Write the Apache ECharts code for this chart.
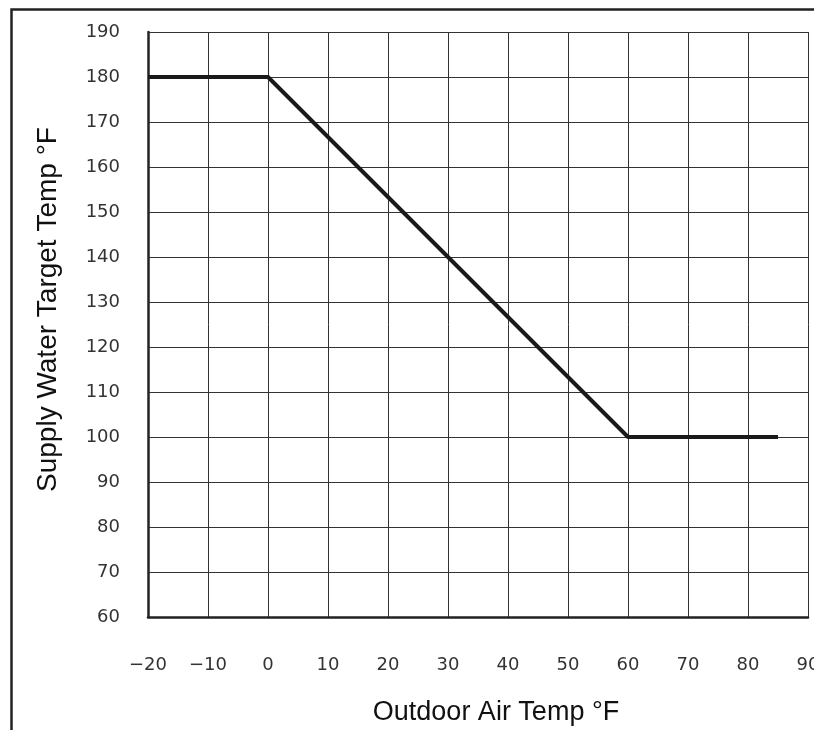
<!DOCTYPE html>
<html>
<head>
<meta charset="utf-8">
<script src="https://cdn.jsdelivr.net/npm/echarts@6/dist/echarts.min.js"></script>
<style>
  html, body { margin: 0; padding: 0; background: #fff; }
  #chart { width: 814px; height: 730px; }
</style>
</head>
<body>
<div id="chart"></div>
<script>
// outdoor air temp (°F) -> supply water target temp (°F)
const outdoorTemp = [-20, 0, 60, 85];
const supplyTemp = [180, 180, 100, 100];

const xMin = -20, xMax = 90, xStep = 10;
const yMin = 60, yMax = 190, yStep = 10;

const chart = echarts.init(document.getElementById('chart'));

const minusFmt = v => String(v).replace('-', '\u2212');

const option = {
  backgroundColor: '#fff',
  animation: false,
  grid: { left: 148, top: 32, right: 6, bottom: 113, outerBoundsMode: 'none' },
  graphic: [
    {
      type: 'polyline',
      shape: { points: [[11.5, 730], [11.5, 9.5], [814, 9.5]] },
      style: { stroke: '#222', lineWidth: 2.5, fill: null }
    }
  ],
  xAxis: {
    type: 'value',
    min: xMin,
    max: xMax,
    interval: xStep,
    name: 'Outdoor Air Temp °F',
    nameLocation: 'middle',
    nameGap: 82,
    nameTextStyle: {
      fontFamily: 'Liberation Sans',
      fontSize: 27,
      color: '#111',
      padding: [0, 0, 0, 36]
    },
    axisLine: { show: true, onZero: false, lineStyle: { color: '#222', width: 2.5 } },
    axisTick: { show: false },
    axisLabel: {
      margin: 39,
      fontFamily: 'DejaVu Sans',
      fontSize: 18,
      color: '#333',
      formatter: minusFmt
    },
    splitLine: { show: true, lineStyle: { color: '#333', width: 1 } }
  },
  yAxis: {
    type: 'value',
    min: yMin,
    max: yMax,
    interval: yStep,
    name: 'Supply Water Target Temp °F',
    nameLocation: 'middle',
    nameGap: 86,
    nameTextStyle: {
      fontFamily: 'Liberation Sans',
      fontSize: 28,
      color: '#111',
      padding: [0, 0, 0, 30]
    },
    axisLine: { show: true, onZero: false, lineStyle: { color: '#222', width: 2.5 } },
    axisTick: { show: false },
    axisLabel: {
      margin: 28,
      fontFamily: 'DejaVu Sans',
      fontSize: 18,
      color: '#333'
    },
    splitLine: { show: true, lineStyle: { color: '#333', width: 1 } }
  },
  series: [
    {
      type: 'line',
      data: outdoorTemp.map((x, i) => [x, supplyTemp[i]]),
      showSymbol: false,
      lineStyle: { color: '#1a1a1a', width: 4 },
      z: 5
    }
  ]
};

chart.setOption(option);
</script>
</body>
</html>
